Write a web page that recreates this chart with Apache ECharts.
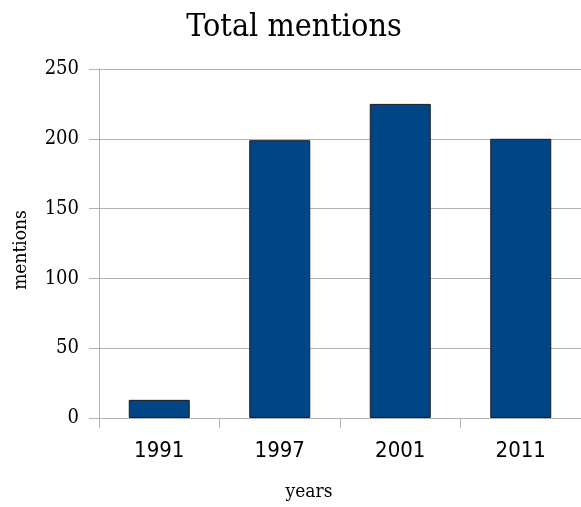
<!DOCTYPE html>
<html>
<head>
<meta charset="utf-8">
<script src="https://cdn.jsdelivr.net/npm/echarts@6/dist/echarts.min.js"></script>
<style>
html,body{margin:0;padding:0;background:#fff;}
#chart{width:581px;height:507px;}
</style>
</head>
<body>
<div id="chart"></div>
<script>
const categories = ['1991', '1997', '2001', '2011'];
const mentions = [13, 199, 225, 200];
const yTicks = [0, 50, 100, 150, 200, 250];

const SERIF = '"DejaVu Serif Condensed", "DejaVu Serif", serif';
const SANS = '"DejaVu Sans Condensed", "DejaVu Sans", sans-serif';

const chart = echarts.init(document.getElementById('chart'), null, {renderer: 'canvas'});
chart.setOption({
  animation: false,
  backgroundColor: '#ffffff',
  title: {
    text: 'Total mentions',
    left: 289,
    textAlign: 'center',
    top: 7,
    textStyle: {fontFamily: SERIF, fontSize: 32, fontWeight: 'normal', color: '#000'}
  },
  grid: {left: 99, right: -2, top: 69, bottom: 86, containLabel: false},
  xAxis: {
    type: 'category',
    data: categories,
    name: 'years',
    nameLocation: 'middle',
    nameGap: 65,
    nameTextStyle: {fontFamily: SERIF, fontSize: 19, color: '#000', padding: [0, 62, 0, 0]},
    axisLine: {show: true, lineStyle: {color: '#b3b3b3', width: 1}},
    axisTick: {show: true, length: 10, alignWithLabel: false, lineStyle: {color: '#b3b3b3'}},
    axisLabel: {fontFamily: SANS, fontSize: 22, color: '#000', margin: 22}
  },
  yAxis: {
    type: 'value',
    min: yTicks[0],
    max: yTicks[yTicks.length - 1],
    interval: 50,
    name: 'mentions',
    nameLocation: 'middle',
    nameGap: 68,
    nameRotate: 90,
    nameTextStyle: {fontFamily: SERIF, fontSize: 19, color: '#000', padding: [0, 13, 0, 0]},
    axisLine: {show: true, lineStyle: {color: '#b3b3b3', width: 1}},
    axisTick: {show: true, length: 10, lineStyle: {color: '#b3b3b3'}},
    axisLabel: {fontFamily: SERIF, fontSize: 20, color: '#000', margin: 20, padding: [6, 0, 0, 0]},
    splitLine: {show: true, lineStyle: {color: '#b3b3b3', width: 1}}
  },
  series: [{
    type: 'bar',
    data: mentions,
    barWidth: 61,
    itemStyle: {color: '#004586', borderColor: '#1c1c1c', borderWidth: 1}
  }]
});
</script>
</body>
</html>
